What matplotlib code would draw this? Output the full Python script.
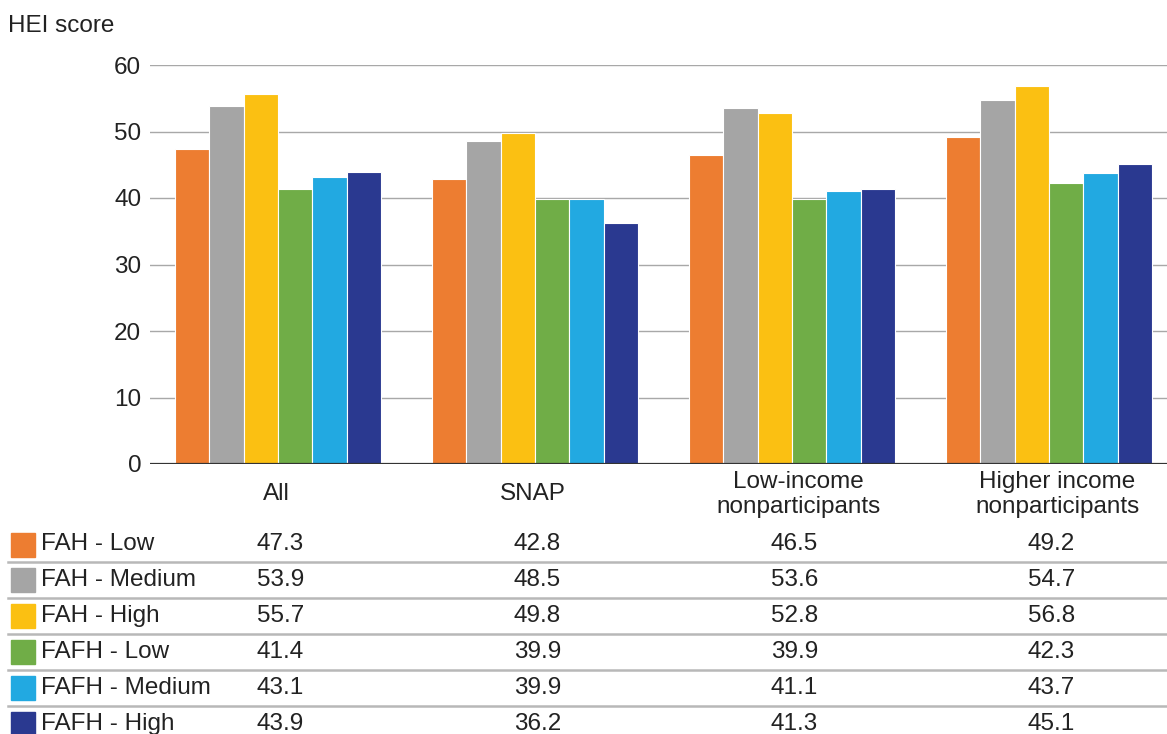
import numpy as np
import matplotlib
matplotlib.use("Agg")
import matplotlib.pyplot as plt
from matplotlib.patches import Rectangle
from matplotlib.transforms import blended_transform_factory

plt.rcParams['font.family'] = ['Liberation Sans', 'DejaVu Sans']

groups = ["All", "SNAP", "Low-income\nnonparticipants", "Higher income\nnonparticipants"]
series = ["FAH - Low", "FAH - Medium", "FAH - High", "FAFH - Low", "FAFH - Medium", "FAFH - High"]
fah_low = [47.3, 42.8, 46.5, 49.2]
fah_med = [53.9, 48.5, 53.6, 54.7]
fah_high = [55.7, 49.8, 52.8, 56.8]
fafh_low = [41.4, 39.9, 39.9, 42.3]
fafh_med = [43.1, 39.9, 41.1, 43.7]
fafh_high = [43.9, 36.2, 41.3, 45.1]
values = [fah_low, fah_med, fah_high, fafh_low, fafh_med, fafh_high]
colors = ["#ED7D31", "#A5A5A5", "#FBC012", "#70AD47", "#22A9E1", "#2A3990"]

W, H = 1167, 734
fig = plt.figure(figsize=(W / 100, H / 100), dpi=100)
fs = 17.5

# bar area
ax = fig.add_axes([149.5 / W, (H - 464) / H, (W - 149.5) / W, (464 - 65) / H])
x = np.arange(len(groups))
bw = 0.8 / len(series)
for i, (vals, c) in enumerate(zip(values, colors)):
    ax.bar(x + (i - 2.5) * bw, vals, bw, color=c, edgecolor="white", linewidth=0.8, zorder=3)

ax.set_xlim(-0.5, (W - 149.5) / 257 - 0.5)
ax.set_ylim(0, 60)
ax.set_yticks(range(0, 61, 10))
ax.set_xticks([])
ax.yaxis.grid(True, color="#A8A8A8", linewidth=1)
ax.set_axisbelow(True)
ax.axhline(0, color="#333333", linewidth=1.6, zorder=4)
for s in ax.spines.values():
    s.set_visible(False)
ax.tick_params(axis="y", length=0, pad=6, labelsize=fs, labelcolor="#222222")

fig.text(8 / W, 1 - 25.5 / H, "HEI score", fontsize=fs, color="#222222", va="center")

# table area below the bars, in pixel coordinates
tab = fig.add_axes([0, 0, 1, 1], zorder=-1)
tab.set_xlim(0, W)
tab.set_ylim(H, 0)
tab.axis("off")
tr = blended_transform_factory(ax.transData, tab.transData)

# wrapped group names sit a little right of the bar centres
label_shift = [-0.008, -0.008, 0.025, 0.033]
for j, g in enumerate(groups):
    tab.text(x[j] + label_shift[j], 494.5, g, transform=tr, ha="center", va="center",
             fontsize=fs, color="#222222", linespacing=1.15)

row0, dy = 544.5, 35.9
for i, (name, vals, c) in enumerate(zip(series, values, colors)):
    yc = row0 + i * dy
    tab.add_patch(Rectangle((11, yc - 12), 24, 24, color=c))
    tab.text(41, yc, name, fontsize=fs, color="#222222", va="center")
    for j, v in enumerate(vals):
        tab.text(x[j] - 0.082, yc, f"{v:.1f}", transform=tr, fontsize=fs,
                 color="#222222", va="center", ha="left")
    if i < len(series) - 1:
        tab.plot([8, W], [yc + dy / 2, yc + dy / 2], color="#B8B8B8", linewidth=1.8)

fig.savefig("out.png", dpi=100)
